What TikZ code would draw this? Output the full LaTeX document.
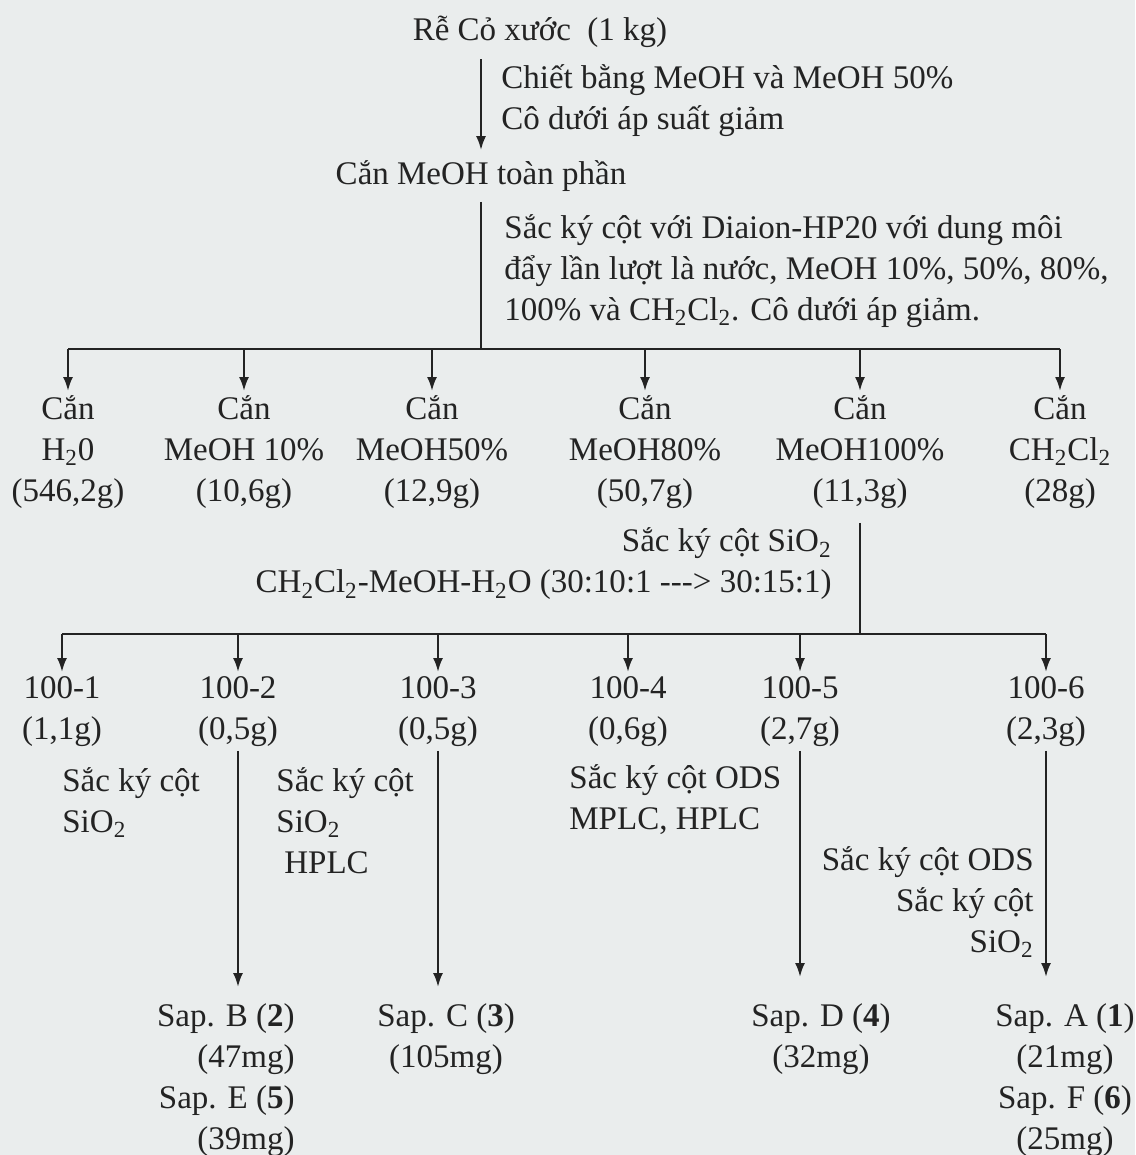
\documentclass[tikz,border=0pt]{standalone}
\usepackage{fontspec}
\setmainfont{Liberation Serif}
\usetikzlibrary{positioning,arrows.meta,calc}
\definecolor{paper}{RGB}{234,237,237}
\definecolor{ink}{RGB}{35,35,35}
\tikzset{
  txt/.style={inner sep=2pt,text=ink,font=\fontsize{16.5}{20.5}\selectfont},
  lbl/.style={txt,align=left},
  col/.style={txt,align=center,anchor=north},
  ln/.style={draw=ink,line width=1.1pt},
  arr/.style={ln,-{Latex[length=7pt,width=5pt]}}
}

\begin{document}
\begin{tikzpicture}[x=0.5pt,y=-0.5pt]
  \fill[paper] (0,0) rectangle (1135,1155);
  \useasboundingbox (0,0) rectangle (1135,1155);
  % extraction
  \node[txt] (root) at (540,32) {Rễ Cỏ xước\ \ (1 kg)};
  \node[txt] (total) at (481,176) {Cắn MeOH toàn phần};
  \draw[arr] ($(root.south -| total.north)+(0,7)$) -- ($(total.north)+(0,-6)$);
  \node[lbl,anchor=west] (ext) at (497,101) {Chiết bằng MeOH và MeOH 50\%\\Cô dưới áp suất giảm};
  % Diaion fractions
  \node[lbl,anchor=west] (dia) at (500,271) {Sắc ký cột với Diaion-HP20 với dung môi\\đẩy lần lượt là nước, MeOH 10\%, 50\%, 80\%,\\100\% và CH\textsubscript{2}Cl\textsubscript{2}. Cô dưới áp giảm.};
  \coordinate (bus1) at (483,349);
  \draw[ln] ($(total.south)+(0,6)$) -- (total.south |- bus1);
  \foreach \n/\x/\m/\w in {1/68/{H\textsubscript{2}0}/{(546,2g)},2/244/{MeOH 10\%}/{(10,6g)},3/432/{MeOH50\%}/{(12,9g)},4/645/{MeOH80\%}/{(50,7g)},5/860/{MeOH100\%}/{(11,3g)},6/1060/{CH\textsubscript{2}Cl\textsubscript{2}}/{(28g)}}{
    \node[col] (c\n) at (\x,391) {Cắn\\\m\\\w};
    \draw[arr] (c\n.north |- bus1) -- (c\n.north);
  }
  \draw[ln] (c1.north |- bus1) -- (c6.north |- bus1);
  % SiO2 fractions of MeOH 100%
  \node[txt,align=right,anchor=east] (sio) at (836,564) {Sắc ký cột SiO\textsubscript{2}\\CH\textsubscript{2}Cl\textsubscript{2}-MeOH-H\textsubscript{2}O (30:10:1 -{}-{}-> 30:15:1)};
  \coordinate (bus2) at (860,634);
  \draw[ln] ($(c5.south)+(0,10)$) -- (c5.south |- bus2);
  \foreach \n/\x/\w in {1/62/{(1,1g)},2/238/{(0,5g)},3/438/{(0,5g)},4/628/{(0,6g)},5/800/{(2,7g)},6/1046/{(2,3g)}}{
    \node[col] (f\n) at (\x,672) {100-\n\\\w};
    \draw[arr] (f\n.north |- bus2) -- (f\n.north);
  }
  \draw[ln] (f1.north |- bus2) -- (f6.north |- bus2);
  % methods
  \node[lbl,anchor=north west] (l1) at (58,763) {Sắc ký cột\\SiO\textsubscript{2}};
  \node[lbl,anchor=north west] (l2) at (272,763) {Sắc ký cột\\SiO\textsubscript{2}\\\hspace{4pt}HPLC};
  \node[lbl,anchor=north west] (l4) at (565,760) {Sắc ký cột ODS\\MPLC, HPLC};
  \node[txt,align=right,anchor=north east] (l6) at (1038,842) {Sắc ký cột ODS\\Sắc ký cột\\SiO\textsubscript{2}};
  % saponins
  \node[txt,align=right,anchor=north east] (sapBE) at (299,999) {Sap. B (\textbf{2})\\(47mg)\\Sap. E (\textbf{5})\\(39mg)};
  \node[col] (sapC) at (446,999) {Sap. C (\textbf{3})\\(105mg)};
  \node[col] (sapD) at (821,999) {Sap. D (\textbf{4})\\(32mg)};
  \node[col] (sapAF) at (1065,999) {Sap. A (\textbf{1})\\(21mg)\\Sap. F (\textbf{6})\\(25mg)};
  \draw[arr,shorten >=6pt] (f2.south) -- (f2.south |- sapBE.north);
  \draw[arr,shorten >=6pt] (f3.south) -- (f3.south |- sapC.north);
  \draw[arr,shorten >=11pt] (f5.south) -- (f5.south |- sapD.north);
  \draw[arr,shorten >=11pt] (f6.south) -- (f6.south |- sapAF.north);
\end{tikzpicture}
\end{document}
